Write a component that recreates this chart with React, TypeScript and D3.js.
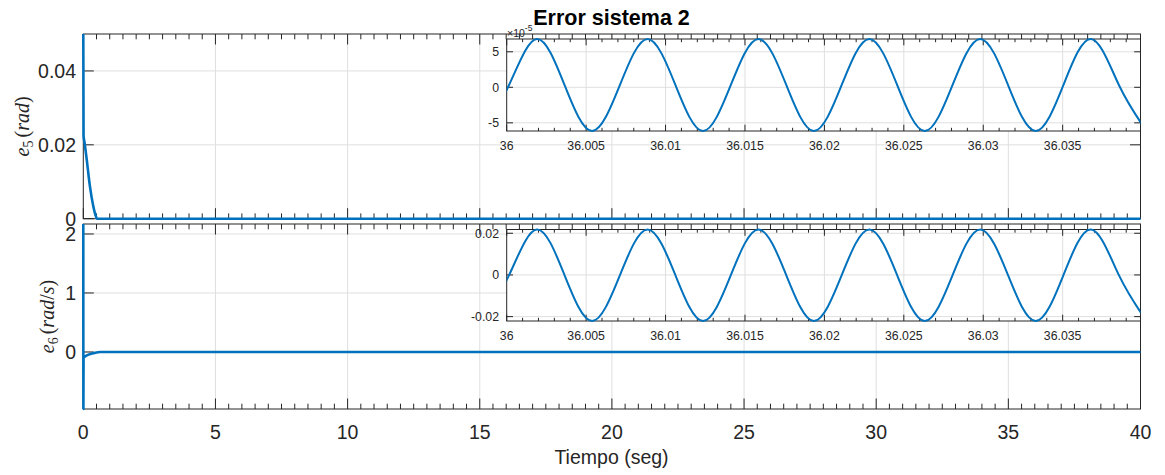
import React from 'react';
import * as d3 from 'd3';

// ---------- data ----------
// main e5 (rad) vs time (s)
const T5 = [0, 0.01, 0.05, 0.13, 0.25, 0.38, 0.46, 0.52, 40];
const E5 = [0.05, 0.0225, 0.0205, 0.016, 0.0088, 0.0033, 0.001, 0, 0];
// main e6 (rad/s) vs time (s)
const T6 = [0, 0.004, 0.01, 0.07, 0.2, 0.39, 0.64, 40];
const E6 = [2.169, -0.966, -0.1, -0.075, -0.045, -0.02, 0, 0];

// zoomed insets: extrema and mean-crossings
const TZ = [
  35.9984, 36.00015, 36.00189, 36.00364, 36.00538, 36.00713, 36.00887, 36.01062,
  36.01236, 36.01411, 36.01585, 36.0176, 36.01934, 36.02109, 36.02283, 36.02458,
  36.02632, 36.02807, 36.02981, 36.03156, 36.0333, 36.03505, 36.03679, 36.03854, 36.04028,
];
// e5 zoom, in units of 1e-5 rad
const E5Z = [
  -6.15, 0.33, 6.8, 0.33, -6.15, 0.33, 6.8, 0.33,
  -6.15, 0.33, 6.8, 0.33, -6.15, 0.33, 6.8, 0.33,
  -6.15, 0.33, 6.8, 0.33, -6.15, 0.33, 6.8, 0.33, -6.15,
];
// e6 zoom (rad/s)
const E6Z = [
  -0.0221, -0.0001, 0.0218, -0.0001, -0.0221, -0.0001, 0.0218, -0.0001,
  -0.0221, -0.0001, 0.0218, -0.0001, -0.0221, -0.0001, 0.0218, -0.0001,
  -0.0221, -0.0001, 0.0218, -0.0001, -0.0221, -0.0001, 0.0218, -0.0001, -0.0221,
];

// ---------- ticks ----------
const MAIN_X_TICKS = [0, 5, 10, 15, 20, 25, 30, 35, 40];
const MAIN_X_LABELS = ['0', '5', '10', '15', '20', '25', '30', '35', '40'];
const E5_TICKS = [0, 0.02, 0.04];
const E5_LABELS = ['0', '0.02', '0.04'];
const E6_TICKS = [0, 1, 2];
const E6_LABELS = ['0', '1', '2'];
const Z_X_TICKS = [36, 36.005, 36.01, 36.015, 36.02, 36.025, 36.03, 36.035];
const Z_X_LABELS = ['36', '36.005', '36.01', '36.015', '36.02', '36.025', '36.03', '36.035'];
const E5Z_TICKS = [-5, 0, 5];
const E5Z_LABELS = ['-5', '0', '5'];
const E6Z_TICKS = [-0.02, 0, 0.02];
const E6Z_LABELS = ['-0.02', '0', '0.02'];

const TITLE = 'Error sistema 2';
const XLABEL = 'Tiempo (seg)';

// ---------- style ----------
const W = 1165;
const H = 475;
const BLUE = '#0072BD';
const AX = '#262626';
const GRID = '#dfdfdf';
const FONT = "'Liberation Sans', Arial, Helvetica, sans-serif";
const SERIF = "'Liberation Serif', 'Times New Roman', serif";

type AxesProps = {
  id: string;
  left: number; right: number; top: number; bottom: number;
  xDomain: [number, number]; yDomain: [number, number];
  xTicks: number[]; xMinor: number[]; yTicks: number[];
  xLabels?: string[]; yLabels: string[];
  xLabelBase?: number; yLabelRight: number;
  fontSize: number; major: number; minor: number;
  t: number[]; v: number[]; sw: number;
  clipPadX: number; clipPadY: number;
  fill: boolean;
  curve: d3.CurveFactory;
};

function Axes(p: AxesProps) {
  const xs = d3.scaleLinear().domain(p.xDomain).range([p.left, p.right]);
  const ys = d3.scaleLinear().domain(p.yDomain).range([p.bottom, p.top]);
  const pts: [number, number][] = p.t.map((t, i) => [t, p.v[i]]);
  const line = d3.line<[number, number]>().x(d => xs(d[0])).y(d => ys(d[1])).curve(p.curve);
  const inX = (t: number) => xs(t) > p.left + 0.5 && xs(t) < p.right - 0.5;
  const inY = (t: number) => ys(t) > p.top + 0.5 && ys(t) < p.bottom - 0.5;
  return (
    <g>
      <defs>
        <clipPath id={p.id}>
          <rect x={p.left - p.clipPadX} y={p.top - p.clipPadY}
            width={p.right - p.left + 2 * p.clipPadX} height={p.bottom - p.top + 2 * p.clipPadY} />
        </clipPath>
      </defs>
      {p.fill && <rect x={p.left} y={p.top} width={p.right - p.left} height={p.bottom - p.top} fill="#fff" />}
      {p.xTicks.filter(inX).map(t => (
        <line key={'gx' + t} x1={xs(t)} x2={xs(t)} y1={p.top} y2={p.bottom} stroke={GRID} strokeWidth={1} />
      ))}
      {p.yTicks.filter(inY).map(t => (
        <line key={'gy' + t} x1={p.left} x2={p.right} y1={ys(t)} y2={ys(t)} stroke={GRID} strokeWidth={1} />
      ))}
      {p.xTicks.map(t => (
        <g key={'tx' + t}>
          <line x1={xs(t)} x2={xs(t)} y1={p.top} y2={p.top + p.major} stroke={AX} strokeWidth={1} />
          <line x1={xs(t)} x2={xs(t)} y1={p.bottom} y2={p.bottom - p.major} stroke={AX} strokeWidth={1} />
        </g>
      ))}
      {p.xMinor.map(t => (
        <g key={'mx' + t}>
          <line x1={xs(t)} x2={xs(t)} y1={p.top} y2={p.top + p.minor} stroke={AX} strokeWidth={1} />
          <line x1={xs(t)} x2={xs(t)} y1={p.bottom} y2={p.bottom - p.minor} stroke={AX} strokeWidth={1} />
        </g>
      ))}
      {p.yTicks.map(t => (
        <g key={'ty' + t}>
          <line x1={p.left} x2={p.left + p.major} y1={ys(t)} y2={ys(t)} stroke={AX} strokeWidth={1} />
          <line x1={p.right} x2={p.right - p.major} y1={ys(t)} y2={ys(t)} stroke={AX} strokeWidth={1} />
        </g>
      ))}
      <rect x={p.left} y={p.top} width={p.right - p.left} height={p.bottom - p.top}
        fill="none" stroke={AX} strokeWidth={1} />
      {p.xLabels && p.xTicks.map((t, i) => (
        <text key={'lx' + t} x={xs(t)} y={p.xLabelBase} textAnchor="middle"
          fontFamily={FONT} fontSize={p.fontSize} fill={AX}>{p.xLabels![i]}</text>
      ))}
      {p.yTicks.map((t, i) => (
        <text key={'ly' + t} x={p.yLabelRight} y={ys(t)} dy="0.36em" textAnchor="end"
          fontFamily={FONT} fontSize={p.fontSize} fill={AX}>{p.yLabels[i]}</text>
      ))}
      <g clipPath={`url(#${p.id})`}>
        <path d={line(pts) || ''} fill="none" stroke={BLUE} strokeWidth={p.sw}
          strokeLinejoin="round" strokeLinecap="butt" />
      </g>
    </g>
  );
}

export default function App() {
  const mainMinor = d3.range(0, 40.001, 0.5).filter(v => Math.abs(v / 5 - Math.round(v / 5)) > 1e-6);
  const zMinor = d3.range(1, 40).map(k => 36 + k * 0.001).filter((v, i) => (i + 1) % 5 !== 0);

  const mainL = 83.3, mainR = 1140.5;
  const zL = 506.7, zR = 1140.5;

  return (
    <svg width={W} height={H} style={{ position: 'absolute', left: 0, top: 0, background: '#fff' }}>
      <rect x={0} y={0} width={W} height={H} fill="#fff" />
      <Axes id="c5" left={mainL} right={mainR} top={34} bottom={218.7}
        xDomain={[0, 40]} yDomain={[0, 0.05]}
        xTicks={MAIN_X_TICKS} xMinor={mainMinor} yTicks={E5_TICKS}
        yLabels={E5_LABELS} yLabelRight={76} fontSize={19.5} major={10.5} minor={5.3}
        t={T5} v={E5} sw={2.6} clipPadX={2} clipPadY={2} fill={true} curve={d3.curveMonotoneX} />
      <Axes id="c6" left={mainL} right={mainR} top={224} bottom={409}
        xDomain={[0, 40]} yDomain={[-0.966, 2.169]}
        xTicks={MAIN_X_TICKS} xMinor={mainMinor} yTicks={E6_TICKS}
        xLabels={MAIN_X_LABELS} xLabelBase={438.5}
        yLabels={E6_LABELS} yLabelRight={76} fontSize={19.5} major={10.5} minor={5.3}
        t={T6} v={E6} sw={2.6} clipPadX={2} clipPadY={2} fill={true} curve={d3.curveMonotoneX} />
      <Axes id="z5" left={zL} right={zR} top={39} bottom={131}
        xDomain={[36, 36.0399]} yDomain={[-6.15, 6.8]}
        xTicks={Z_X_TICKS} xMinor={zMinor} yTicks={E5Z_TICKS}
        xLabels={Z_X_LABELS} xLabelBase={150}
        yLabels={E5Z_LABELS} yLabelRight={499} fontSize={12.3} major={6.3} minor={3.2}
        t={TZ} v={E5Z} sw={2} clipPadX={0} clipPadY={2} fill={true} curve={d3.curveNatural} />
      <text x={507} y={37} fontFamily={FONT} fontSize={10.5} fill={AX}>
        ×10<tspan dy={-6} fontSize={8.5}>-5</tspan>
      </text>
      <Axes id="z6" left={zL} right={zR} top={229.5} bottom={321}
        xDomain={[36, 36.0399]} yDomain={[-0.0221, 0.0218]}
        xTicks={Z_X_TICKS} xMinor={zMinor} yTicks={E6Z_TICKS}
        xLabels={Z_X_LABELS} xLabelBase={340}
        yLabels={E6Z_LABELS} yLabelRight={499} fontSize={12.3} major={6.3} minor={3.2}
        t={TZ} v={E6Z} sw={2} clipPadX={0} clipPadY={2} fill={true} curve={d3.curveNatural} />

      <text x={611.5} y={25} textAnchor="middle" fontFamily={FONT} fontWeight="bold"
        fontSize={21.5} fill="#000">{TITLE}</text>
      <text x={611.5} y={464} textAnchor="middle" fontFamily={FONT} fontSize={19.5} fill={AX}>{XLABEL}</text>

      <text transform="translate(28.5,126.4) rotate(-90)" textAnchor="middle" fontFamily={SERIF}
        fontSize={20} fill={AX}>
        <tspan fontStyle="italic">e</tspan>
        <tspan fontSize={14} dy={4}>5</tspan>
        <tspan dy={-4} dx={3}>(</tspan>
        <tspan fontStyle="italic">rad</tspan>
        <tspan>)</tspan>
      </text>
      <text transform="translate(54,316.5) rotate(-90)" textAnchor="middle" fontFamily={SERIF}
        fontSize={20} fill={AX}>
        <tspan fontStyle="italic">e</tspan>
        <tspan fontSize={14} dy={4}>6</tspan>
        <tspan dy={-4} dx={3}>(</tspan>
        <tspan fontStyle="italic">rad</tspan>
        <tspan>/</tspan>
        <tspan fontStyle="italic">s</tspan>
        <tspan>)</tspan>
      </text>
    </svg>
  );
}
